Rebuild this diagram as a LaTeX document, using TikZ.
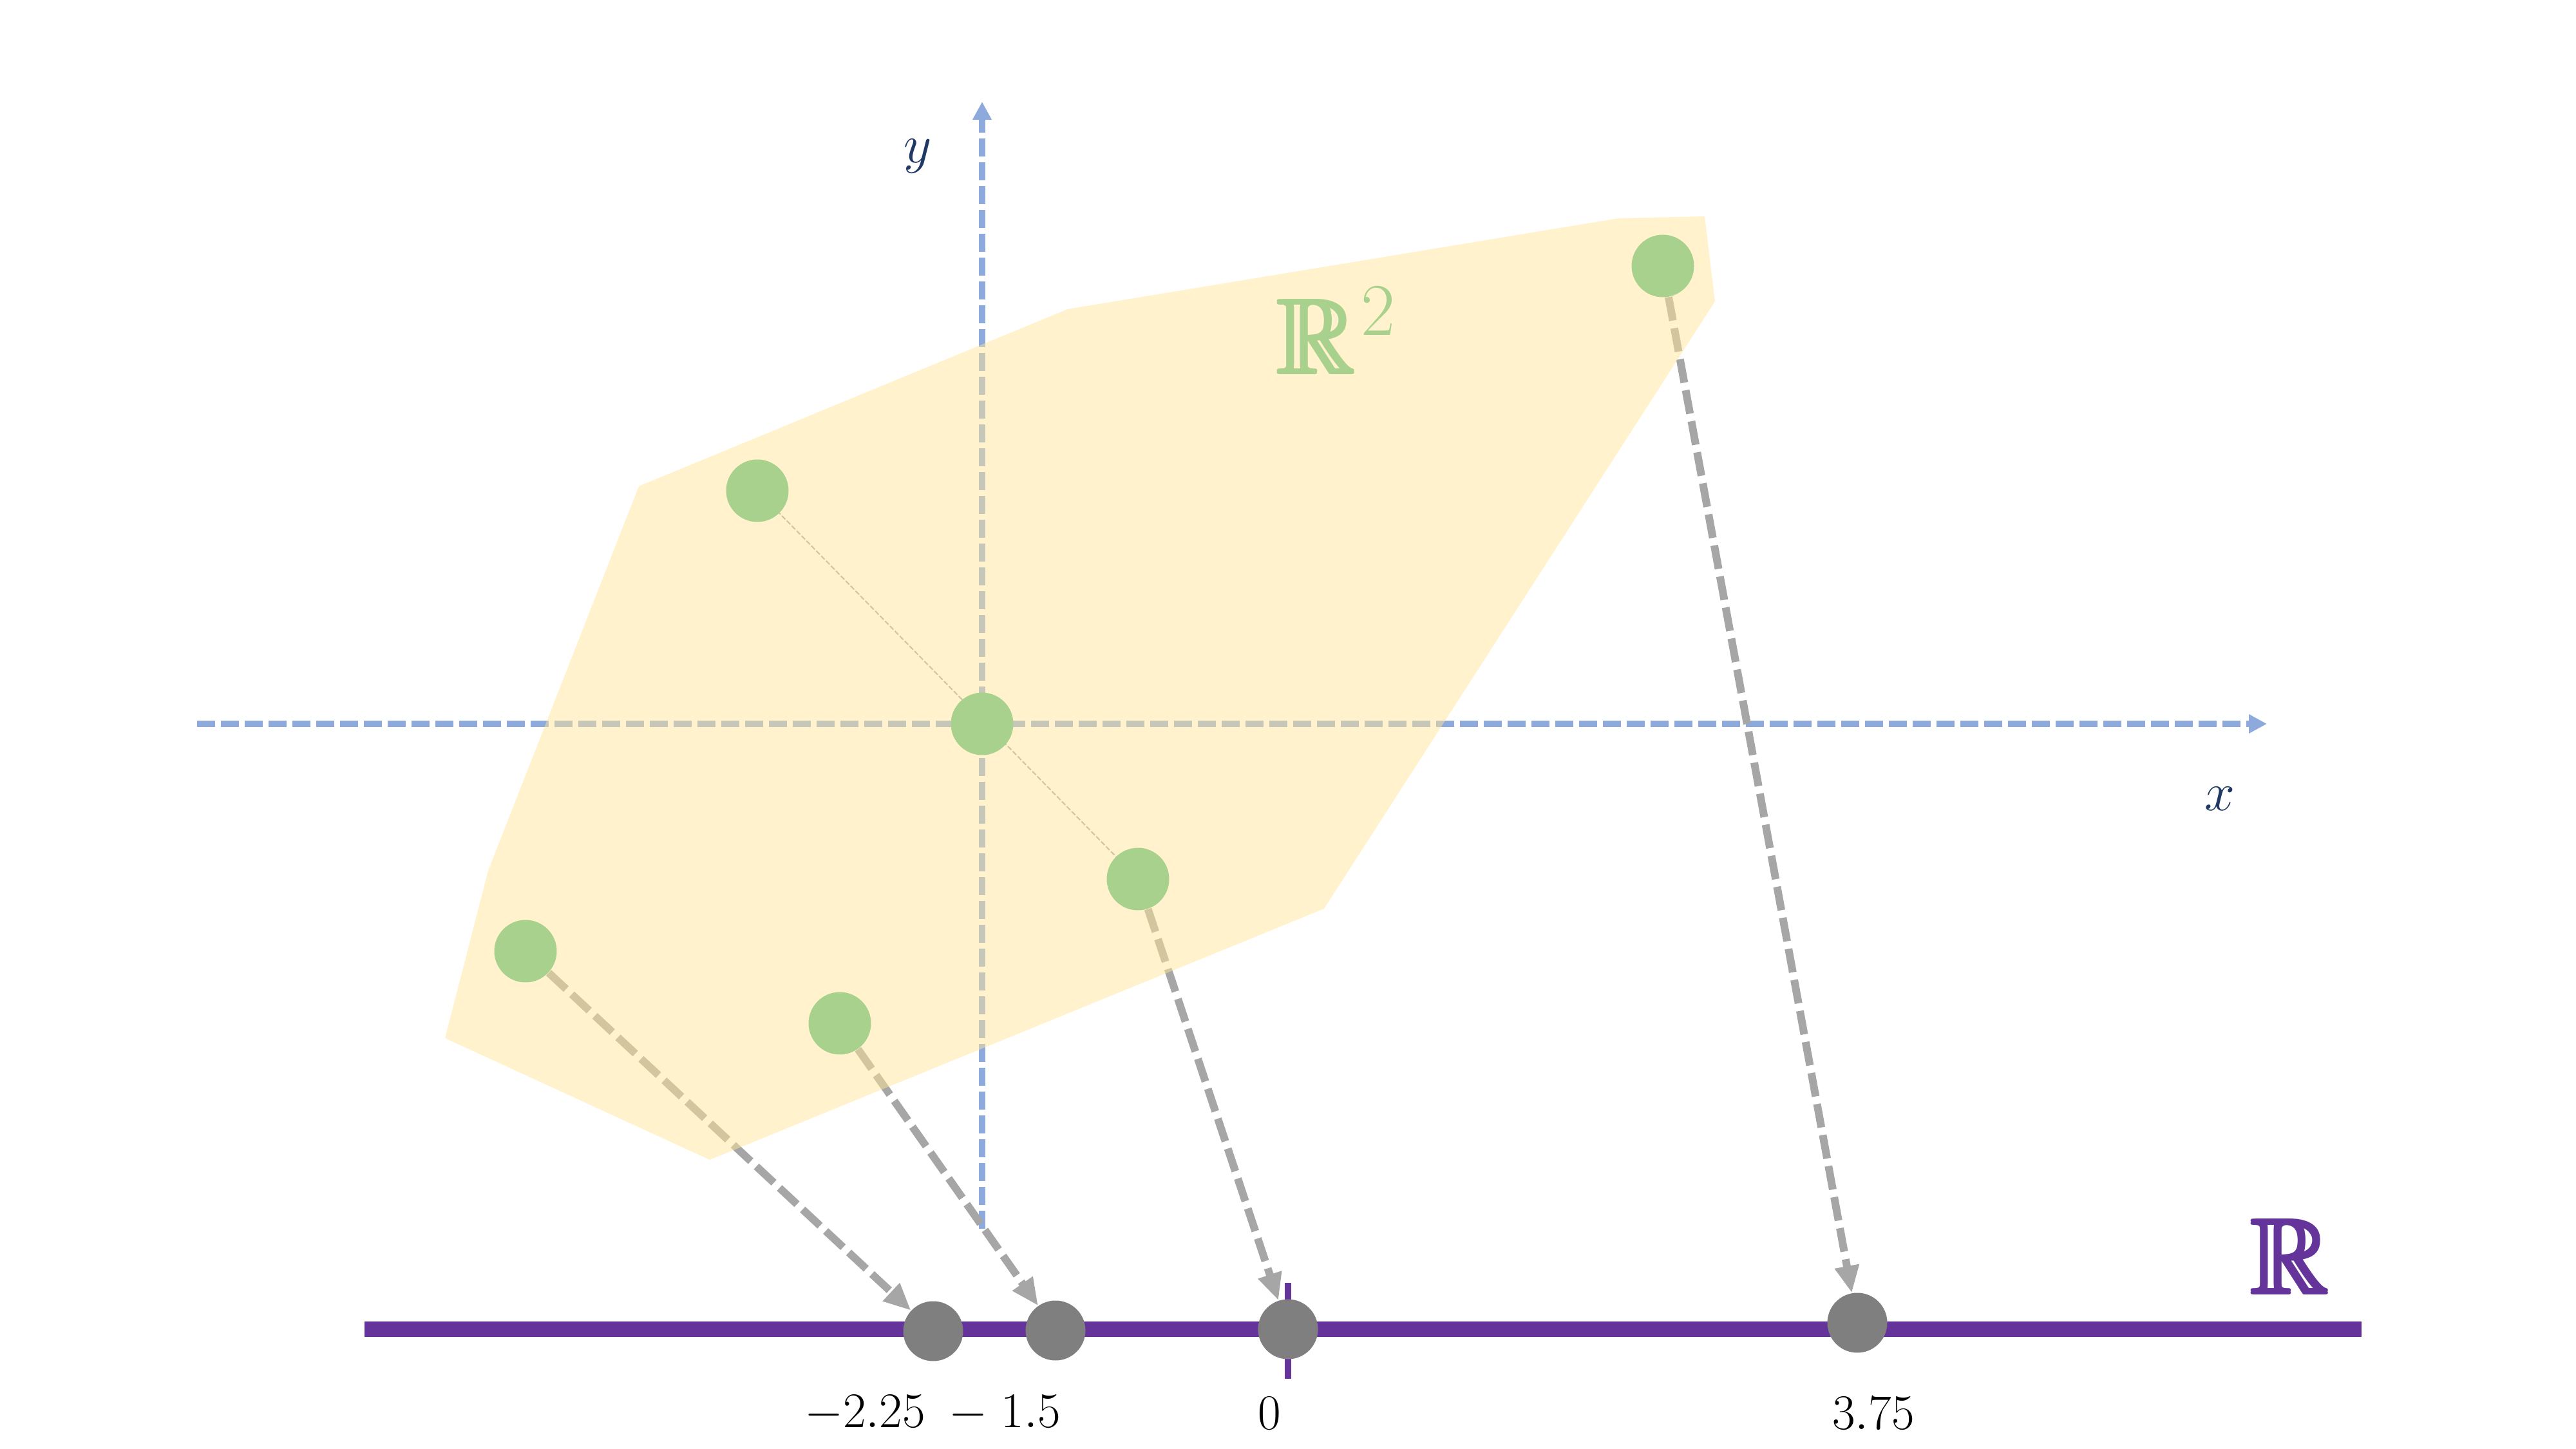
\documentclass[tikz,border=0pt]{standalone}
\usepackage{fix-cm}
\usepackage{amssymb}
\usepackage{graphicx}
\usetikzlibrary{arrows.meta}
\definecolor{axisblue}{HTML}{8EA9DB}
\definecolor{regionyellow}{HTML}{FFE699}
\definecolor{ptgreen}{HTML}{A9D18E}
\definecolor{arrowgray}{HTML}{A6A6A6}
\definecolor{ptgray}{HTML}{7F7F7F}
\definecolor{linepurple}{RGB}{100,52,154}
\definecolor{labelnavy}{HTML}{1F3864}
\newcommand{\bbRplain}{{\usefont{U}{msb}{m}{n}R}}
\newcommand{\bbR}{%
  \makebox[0pt][l]{\bbRplain}%
  \makebox[0pt][l]{\kern0.035em\bbRplain}%
  \makebox[0pt][l]{\raisebox{0.02em}{\bbRplain}}%
  \makebox[0pt][l]{\kern0.018em\raisebox{0.01em}{\bbRplain}}%
  \kern0.035em\raisebox{0.02em}{\bbRplain}}
\pgfdeclarelayer{back}
\pgfdeclarelayer{mid}
\pgfsetlayers{back,mid,main}
\begin{document}
\begin{tikzpicture}[
  axisline/.style={axisblue, line width=2.85pt, dash pattern=on 0.28cm off 0.09cm,
    -{Triangle[length=0.28cm,width=0.28cm]}},
  projarrow/.style={arrowgray, line width=3.4pt, dash pattern=on 0.37cm off 0.12cm,
    -{Triangle[length=0.42cm,width=0.36cm]}},
  greenpt/.style={circle, fill=ptgreen, minimum size=0.97cm, inner sep=0pt},
  graypt/.style={circle, fill=ptgray, minimum size=0.93cm, inner sep=0pt},
  numlabel/.style={font=\fontsize{22}{26}\selectfont, text=black},
  axislabel/.style={font=\fontsize{24}{28}\selectfont, text=labelnavy}
]
\useasboundingbox (0,0) rectangle (40,-22.5);

% points in the plane
\node[greenpt] (g0) at (15.25,-11.24) {};
\node[greenpt] (g1) at (11.76,-7.62) {};
\node[greenpt] (g2) at (17.67,-13.65) {};
\node[greenpt] (g3) at (8.16,-14.77) {};
\node[greenpt] (g4) at (13.04,-15.89) {};
\node[greenpt] (g5) at (25.82,-4.13) {};

% axis ends
\coordinate (xs) at (3.06,-11.24);
\coordinate (xe) at (35.20,-11.24);
\coordinate (ys) at (15.25,-19.08);
\coordinate (ye) at (15.25,-1.58);

% number line
\coordinate (ls) at (5.66,-20.64);
\coordinate (le) at (36.67,-20.64);
\coordinate (ts) at (20.00,-19.92);
\coordinate (te) at (20.00,-21.41);

% projected points
\node[graypt] (n1) at (14.49,-20.67) {};
\node[graypt] (n2) at (16.39,-20.66) {};
\node[graypt] (n3) at (20.00,-20.64) {};
\node[graypt] (n4) at (28.84,-20.54) {};

\begin{pgfonlayer}{back}
  \draw[axisline] (xs) -- (xe);
  \draw[axisline] (ys) -- (ye);
  \draw[arrowgray, line width=0.6pt, dash pattern=on 2.2pt off 0.9pt] (g1.center) -- (g2.center);
  \draw[linepurple, line width=7.1pt] (ls) -- (le);
  \draw[linepurple, line width=2.6pt] (ts) -- (te);
  \draw[projarrow] (g3) -- (n1);
  \draw[projarrow] (g4) -- (n2);
  \draw[projarrow] (g2) -- (n3);
  \draw[projarrow] (g5) -- (n4);
\end{pgfonlayer}

\begin{pgfonlayer}{mid}
  \fill[regionyellow, opacity=0.5]
    (9.92,-7.55) -- (16.58,-4.80) -- (25.13,-3.39) -- (26.47,-3.36) -- (26.63,-4.68)
    -- (20.56,-14.11) -- (11.02,-18.01) -- (6.91,-16.12) -- (7.58,-13.52) -- cycle;
\end{pgfonlayer}

% labels
\node[anchor=base west, inner sep=0pt, text=ptgreen] (r2) at (19.80,-5.82)
  {\scalebox{1.9}{\fontsize{24.88}{28}\selectfont\bbR\hspace{0.04em}\raisebox{0.37em}{\fontsize{17.28}{20}\selectfont 2}}};
\node[anchor=base west, inner sep=0pt, text=linepurple] (r1) at (34.92,-20.10)
  {\scalebox{1.9}{\fontsize{24.88}{28}\selectfont\bbR}};
\node[axislabel] (xl) at (34.47,-12.40) {$x$};
\node[axislabel] (yl) at (14.25,-2.43) {$y$};

\node[numlabel] (l1) at (13.43,-21.95) {$-2.25$};
\node[numlabel] (l2) at (15.60,-21.95) {$-\;1.5$};
\node[numlabel] (l3) at (19.71,-21.95) {$0$};
\node[numlabel] (l4) at (29.09,-21.95) {$3.75$};
\end{tikzpicture}
\end{document}
